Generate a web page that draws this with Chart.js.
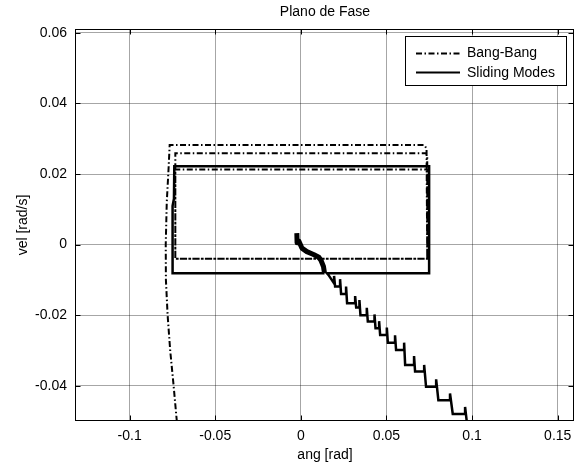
<!DOCTYPE html>
<html>
<head>
<meta charset="utf-8">
<script src="https://cdn.jsdelivr.net/npm/chart.js@4"></script>
<style>
  html, body { margin: 0; padding: 0; background: #fff; }
</style>
</head>
<body>
<canvas id="fase" width="581" height="464"></canvas>
<script>
// Ejes
const xTicks = [-0.1, -0.05, 0, 0.05, 0.1, 0.15];
const xTickLabels = ["-0.1", "-0.05", "0", "0.05", "0.1", "0.15"];
const yTicks = [-0.04, -0.02, 0, 0.02, 0.04, 0.06];
const yTickLabels = ["-0.04", "-0.02", "0", "0.02", "0.04", "0.06"];
const xMin = -0.1313, xMax = 0.1595;
const yMin = -0.05, yMax = 0.0611;

// Bang-Bang (ang, vel)
const bangX = [-0.0724, -0.0743, -0.0763, -0.0778, -0.0788, -0.0789, -0.0783, -0.0772, -0.0766,
  0.0722, 0.0734, 0.0738, -0.0733, -0.0733, 0.0730, 0.0738, 0.0738, -0.0733, -0.0733, 0.0738, 0.0738];
const bangY = [-0.0502, -0.04, -0.03, -0.02, -0.01, 0, 0.012, 0.022, 0.0282,
  0.0282, 0.0272, -0.0040, -0.0040, 0.0259, 0.0259, 0.0250, -0.0040, -0.0040, 0.0213, 0.0213, -0.0040];

// Sliding Modes (ang, vel): arranque cerca del origen (chattering denso)
const slidStartX = [-0.00235, -0.0022, -0.0012, 0.0006, 0.0035, 0.0074, 0.0105, 0.0118, 0.0132, 0.0138];
const slidStartY = [0.00323, 0.0005, 0.0010, -0.0010, -0.0020, -0.0028, -0.0036, -0.0045, -0.0062, -0.0081];

// Sliding Modes: ciclo y escalera
const slidX = [0.0138,
  -0.0749, -0.0749, -0.0741, -0.0739, 0.0749, 0.0749, 0.0152,
  0.0161,
  0.0194, 0.0194, 0.0200,
  0.0229, 0.0229, 0.0235,
  0.0264, 0.0264, 0.0270,
  0.0317, 0.0317, 0.0323,
  0.0342, 0.0342, 0.0348,
  0.0385, 0.0385, 0.0391,
  0.0430, 0.0430, 0.0436,
  0.0457, 0.0457, 0.0463,
  0.0502, 0.0502, 0.0508,
  0.0550, 0.0550, 0.0556,
  0.0603, 0.0603, 0.0609,
  0.0661, 0.0661, 0.0667,
  0.0720, 0.0720, 0.0731,
  0.0790, 0.0790, 0.0803,
  0.0871, 0.0871, 0.0887,
  0.0959, 0.0959, 0.0969];
const slidY = [-0.0081,
  -0.0081, 0.011, 0.013, 0.0222, 0.0222, -0.0081, -0.0081,
  -0.0086,
  -0.0110, -0.0089, -0.0119,
  -0.0119, -0.0098, -0.0140,
  -0.0140, -0.0119, -0.0166,
  -0.0166, -0.0146, -0.0178,
  -0.0178, -0.0157, -0.0200,
  -0.0200, -0.0179, -0.0218,
  -0.0218, -0.0198, -0.0237,
  -0.0237, -0.0217, -0.0256,
  -0.0256, -0.0235, -0.0278,
  -0.0278, -0.0257, -0.0299,
  -0.0299, -0.0278, -0.0341,
  -0.0341, -0.0316, -0.0360,
  -0.0360, -0.0341, -0.0403,
  -0.0403, -0.0382, -0.0441,
  -0.0441, -0.0422, -0.0480,
  -0.0480, -0.0460, -0.0502];

const FONT = '"Liberation Sans", Arial, sans-serif';
const DASHDOT = [6, 2.5, 1.5, 2.5];

function pts(xs, ys) {
  return xs.map((x, i) => ({ x: x, y: ys[i] }));
}

// caja, ticks hacia dentro, leyenda y textos al estilo matlab
const matlabAxes = {
  id: 'matlabAxes',
  afterDraw(chart) {
    const ctx = chart.ctx;
    const a = chart.chartArea;
    const xs = chart.scales.x, ys = chart.scales.y;
    const L = Math.round(a.left) - 0.5, R = Math.round(a.right) - 0.5;
    const T = Math.round(a.top) + 0.5, B = Math.round(a.bottom) - 0.5;
    ctx.save();
    ctx.strokeStyle = '#000';
    ctx.lineWidth = 1;
    ctx.setLineDash([]);
    ctx.strokeRect(L, T, R - L, B - T);
    ctx.beginPath();
    xTicks.forEach(v => {
      const p = Math.round(xs.getPixelForValue(v)) + 0.5;
      ctx.moveTo(p, B); ctx.lineTo(p, B - 5);
      ctx.moveTo(p, T); ctx.lineTo(p, T + 5);
    });
    yTicks.forEach(v => {
      const p = Math.round(ys.getPixelForValue(v)) + 0.5;
      ctx.moveTo(L, p); ctx.lineTo(L + 5, p);
      ctx.moveTo(R, p); ctx.lineTo(R - 5, p);
    });
    ctx.stroke();

    // leyenda
    ctx.fillStyle = '#fff';
    ctx.fillRect(405.5, 36.5, 161, 49);
    ctx.strokeRect(405.5, 36.5, 161, 49);
    ctx.lineWidth = 2;
    ctx.setLineDash(DASHDOT);
    ctx.beginPath(); ctx.moveTo(416, 53.5); ctx.lineTo(460, 53.5); ctx.stroke();
    ctx.setLineDash([]);
    ctx.beginPath(); ctx.moveTo(416, 72.5); ctx.lineTo(460, 72.5); ctx.stroke();

    ctx.fillStyle = '#000';
    ctx.font = '14px ' + FONT;
    ctx.textAlign = 'left';
    ctx.textBaseline = 'middle';
    ctx.fillText('Bang-Bang', 467, 53.5);
    ctx.fillText('Sliding Modes', 467, 73);

    ctx.textAlign = 'center';
    ctx.fillText('Plano de Fase', (a.left + a.right) / 2, 12);
    ctx.fillText('ang [rad]', (a.left + a.right) / 2, 455);
    ctx.translate(23, (a.top + a.bottom) / 2);
    ctx.rotate(-Math.PI / 2);
    ctx.fillText('vel [rad/s]', 0, 0);
    ctx.restore();
  }
};

new Chart(document.getElementById('fase'), {
  type: 'scatter',
  data: {
    datasets: [{
      label: 'Bang-Bang',
      data: pts(bangX, bangY),
      showLine: true,
      borderColor: '#000',
      borderWidth: 2,
      borderDash: DASHDOT,
      pointRadius: 0,
      tension: 0
    },
    {
      label: 'Sliding Modes',
      data: pts(slidStartX, slidStartY),
      showLine: true,
      borderColor: '#000',
      borderWidth: 5,
      borderJoinStyle: 'round',
      pointRadius: 0,
      tension: 0
    },
    {
      label: 'Sliding Modes',
      data: pts(slidX, slidY),
      showLine: true,
      borderColor: '#000',
      borderWidth: 2.5,
      pointRadius: 0,
      tension: 0
    }]
  },
  options: {
    responsive: false,
    animation: false,
    layout: { padding: { top: 29, right: 7, left: 0, bottom: 0 } },
    plugins: {
      legend: { display: false },
      title: { display: false },
      tooltip: { enabled: false }
    },
    scales: {
      x: {
        type: 'linear',
        min: xMin,
        max: xMax,
        afterBuildTicks: s => { s.ticks = xTicks.map(v => ({ value: v })); },
        afterFit: s => { s.height = 43; },
        ticks: {
          color: '#000',
          padding: 7,
          maxRotation: 0,
          font: { family: FONT, size: 14 },
          callback: (v, i) => xTickLabels[i]
        },
        grid: { color: 'rgba(0,0,0,0.35)', drawTicks: false },
        border: { display: false, dash: [] }
      },
      y: {
        type: 'linear',
        min: yMin,
        max: yMax,
        afterBuildTicks: s => { s.ticks = yTicks.map(v => ({ value: v })); },
        afterFit: s => { s.width = 76; },
        ticks: {
          color: '#000',
          padding: 9,
          font: { family: FONT, size: 14 },
          callback: (v, i) => yTickLabels[i]
        },
        grid: { color: 'rgba(0,0,0,0.35)', drawTicks: false },
        border: { display: false, dash: [] }
      }
    }
  },
  plugins: [matlabAxes]
});
</script>
</body>
</html>
